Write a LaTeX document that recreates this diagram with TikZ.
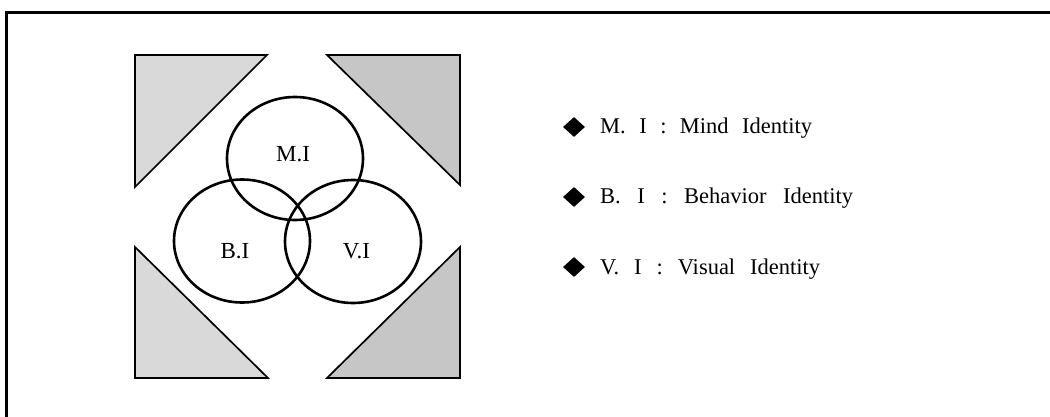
\documentclass[tikz,border=0pt]{standalone}
\usepackage{fontspec}
\setmainfont{Liberation Serif}
\usetikzlibrary{shapes.geometric}
\newcommand{\legline}[2]{\hbox to #1{\spaceskip=4pt plus 1fil\relax #2}}
\begin{document}
\begin{tikzpicture}[x=1pt,y=-1pt,
  tri/.style={draw=black,line width=1.7pt,line join=miter},
  trileft/.style={tri,fill=gray!30},
  triright/.style={tri,fill=gray!45},
  ring/.style={draw=black,line width=2.6pt},
  clabel/.style={font=\fontsize{23}{23}\selectfont,inner sep=0pt,anchor=base},
  bullet/.style={diamond,fill=black,inner sep=0pt,minimum width=22pt,minimum height=20pt},
  legend/.style={font=\fontsize{22.5}{22.5}\selectfont,inner sep=0pt,anchor=base west}]
\useasboundingbox (0,0) rectangle (1050,417);
\fill[white] (0,0) rectangle (1050,417);
% frame (top and left edges visible)
\draw[line width=2.6pt] (6.5,420) -- (6.5,12.5) -- (1055,12.5);
% corner triangles
\draw[trileft] (135,55) -- (267,55) -- (135,187) -- cycle;
\draw[triright] (327,55) -- (460,55) -- (460,185) -- cycle;
\draw[trileft] (135,247) -- (135,378) -- (268,378) -- cycle;
\draw[triright] (327,378) -- (460,378) -- (460,247) -- cycle;
% circles
\draw[ring] (295,158.5) ellipse [x radius=68, y radius=61.5];
\draw[ring] (242,241) ellipse [x radius=68, y radius=61.5];
\draw[ring] (353,241.5) ellipse [x radius=68, y radius=61.5];
\node[clabel] (mi) at (293,161.5) {M.I};
\node[clabel] (bi) at (235,258) {B.I};
\node[clabel] (vi) at (356.5,258) {V.I};
% legend
\node[bullet] (d1) at (574,127) {};
\node[bullet] (d2) at (574,197) {};
\node[bullet] (d3) at (574,267) {};
\node[legend] (l1) at (600,134) {\legline{212pt}{M. I : Mind Identity}};
\node[legend] (l2) at (600,204) {\legline{253pt}{B. I : Behavior Identity}};
\node[legend] (l3) at (600,274) {\legline{220pt}{V. I : Visual Identity}};
\end{tikzpicture}
\end{document}
